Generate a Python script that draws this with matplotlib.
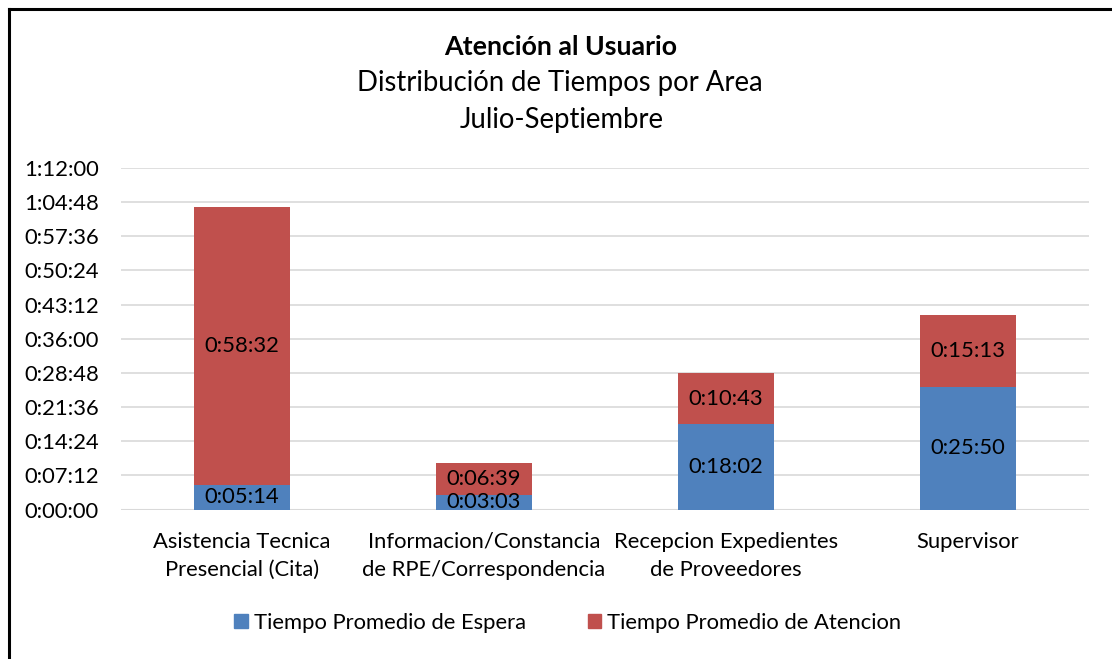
import matplotlib
matplotlib.use("Agg")
import matplotlib.pyplot as plt
from matplotlib.lines import Line2D
from matplotlib.patches import Patch

plt.rcParams['font.family'] = ['Lato', 'DejaVu Sans']

categories = ["Asistencia Tecnica\nPresencial (Cita)",
              "Informacion/Constancia\nde RPE/Correspondencia",
              "Recepcion Expedientes\nde Proveedores",
              "Supervisor"]
espera = ["0:05:14", "0:03:03", "0:18:02", "0:25:50"]
atencion = ["0:58:32", "0:06:39", "0:10:43", "0:15:13"]
series_names = ["Tiempo Promedio de Espera", "Tiempo Promedio de Atencion"]
yticks = ["0:00:00", "0:07:12", "0:14:24", "0:21:36", "0:28:48", "0:36:00",
          "0:43:12", "0:50:24", "0:57:36", "1:04:48", "1:12:00"]

def secs(s):
    h, m, x = s.split(":")
    return int(h) * 3600 + int(m) * 60 + int(x)

esp = [secs(v) for v in espera]
ate = [secs(v) for v in atencion]
yt = [secs(v) for v in yticks]

blue = "#4F81BD"
red = "#C0504D"
fs = 15.8

fig = plt.figure(figsize=(11.12, 6.59), dpi=100)
ax = fig.add_axes([121/1112, 1 - 509.5/659, 968/1112, (509.5 - 168)/659])

x = list(range(len(categories)))
ax.bar(x, esp, width=0.4, color=blue, zorder=3)
ax.bar(x, ate, width=0.4, bottom=esp, color=red, zorder=3)

for i in x:
    ax.text(i, esp[i] / 2, espera[i], ha="center", va="center", fontsize=fs, zorder=4)
    ax.text(i, esp[i] + ate[i] / 2, atencion[i], ha="center", va="center", fontsize=fs, zorder=4)

ax.set_xlim(-0.5, len(categories) - 0.5)
ax.set_ylim(0, yt[-1])
ax.set_yticks(yt)
ax.set_yticklabels(yticks, fontsize=fs)
ax.set_xticks(x)
ax.set_xticklabels(categories, fontsize=fs, linespacing=1.5)
ax.tick_params(axis="y", length=0, pad=16)
ax.tick_params(axis="x", length=0, pad=16)
ax.yaxis.grid(True, color="#D9D9D9", linewidth=1.2, zorder=0)
for s in ax.spines.values():
    s.set_visible(False)
ax.axhline(0, color="#D9D9D9", linewidth=1.5, zorder=2)

fig.text(561/1112, 1 - 47/659, "Atención al Usuario", ha="center", va="center",
         fontsize=19.3, fontweight="bold")
fig.text(560/1112, 1 - 83/659, "Distribución de Tiempos por Area", ha="center", va="center",
         fontsize=19.8)
fig.text(562/1112, 1 - 120/659, "Julio-Septiembre", ha="center", va="center",
         fontsize=19.8)

handles = [Patch(color=blue), Patch(color=red)]
fig.legend(handles, series_names, loc="center", bbox_to_anchor=(568/1112, 1 - 623/659),
           ncol=2, frameon=False, fontsize=fs, handlelength=0.6, handleheight=0.6,
           handletextpad=0.3, columnspacing=2.8)

fig.add_artist(Line2D([8.5/1112, 8.5/1112], [0, 1 - 8.5/659], color="black", linewidth=2.2,
                      transform=fig.transFigure))
fig.add_artist(Line2D([8.5/1112, 1], [1 - 8.5/659, 1 - 8.5/659], color="black", linewidth=2.2,
                      transform=fig.transFigure))

fig.savefig("out.png", dpi=100, facecolor="white")
